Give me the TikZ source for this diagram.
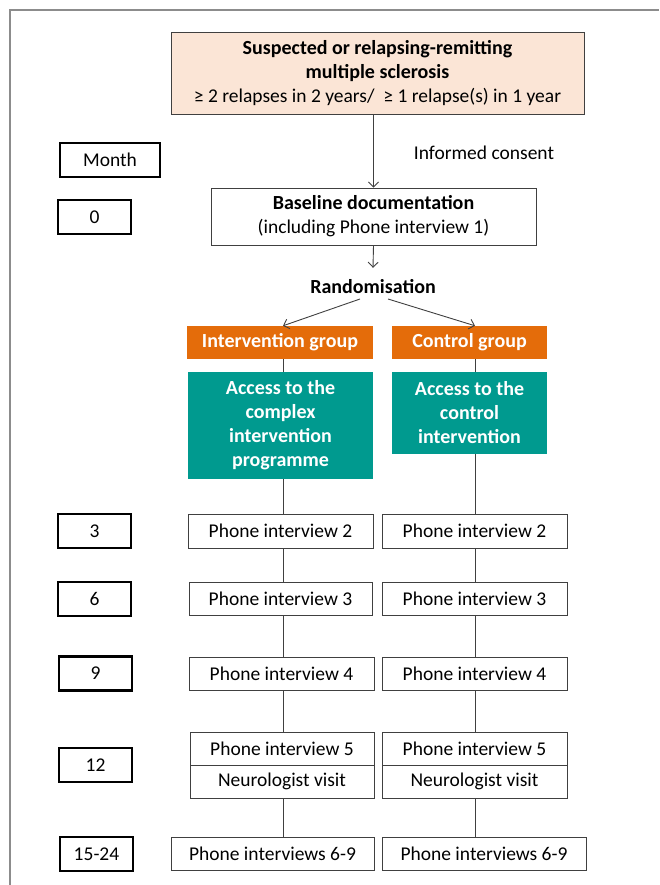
\documentclass[tikz,border=0pt]{standalone}
\usepackage{fontspec}
\setmainfont{Carlito}
\usetikzlibrary{arrows.meta}
\definecolor{peach}{HTML}{FBE5D6}
\definecolor{orng}{HTML}{E46C0A}
\definecolor{tealc}{HTML}{009A8F}
\definecolor{edgec}{HTML}{404040}
\definecolor{framec}{HTML}{8C8C8C}
\tikzset{
  base/.style={font=\fontsize{19.5}{24}\selectfont, align=center, inner sep=0pt},
  bfnt/.style={font=\fontsize{20}{24}\selectfont\bfseries},
  wbox/.style={base, draw=edgec, line width=0.9pt, fill=white},
  mbox/.style={base, draw=black, line width=2.8pt, minimum width=73pt, minimum height=34pt},
  obox/.style={base, fill=orng, text=white, bfnt},
  tbox/.style={base, fill=tealc, text=white, bfnt},
  conn/.style={draw=edgec, line width=0.9pt},
  arr/.style={conn, -{Straight Barb[length=5pt,width=10pt]}},
}
\begin{document}
\begin{tikzpicture}[x=1pt,y=-1pt]
\useasboundingbox (0,0) rectangle (659,885);
\draw[framec, line width=1.3pt] (10,885) -- (10,10) -- (659,10);

% top
\node[wbox, fill=peach, minimum width=413pt, minimum height=82pt] (top) at (377.5,73)
  {\textbf{\fontsize{20}{24}\selectfont Suspected or relapsing-remitting}\\ \textbf{\fontsize{20}{24}\selectfont multiple sclerosis}\\ ≥ 2 relapses in 2 years/\ \ ≥ 1 relapse(s) in 1 year};
\node[base] (ic) at (484,153) {Informed consent};
\node[wbox, minimum width=325pt, minimum height=57pt] (bl) at (373.5,216.5)
  {\textbf{\fontsize{20}{24}\selectfont Baseline documentation}\\ (including Phone interview 1)};
\node[base, minimum height=38pt, bfnt] (rand) at (373,287) {Randomisation};

% month boxes
\node[mbox, minimum width=100pt] (mm) at (110,160) {Month};
\node[mbox] (m0) at (94.5,217) {0};
\node[mbox] (m3) at (94.5,531) {3};
\node[mbox] (m6) at (94.5,599) {6};
\node[mbox] (m9) at (95.5,673.5) {9};
\node[mbox] (m12) at (95.5,765) {12};
\node[mbox] (m15) at (96.5,854) {15-24};

% groups
\node[obox, minimum width=186pt, minimum height=33pt] (ig) at (280,342.5) {Intervention group};
\node[obox, minimum width=155pt, minimum height=33pt] (cg) at (469.5,342.5) {Control group};
\node[tbox, minimum width=185pt, minimum height=107pt] (ia) at (280.5,425.5)
  {Access to the\\ complex\\ intervention\\ programme};
\node[tbox, minimum width=155pt, minimum height=82pt] (ca) at (469.5,413)
  {Access to the\\ control\\ intervention};

% left column
\node[wbox, minimum width=185pt, minimum height=34pt] (p2l) at (280.5,531) {Phone interview 2};
\node[wbox, minimum width=183pt, minimum height=33pt] (p3l) at (280.5,598.5) {Phone interview 3};
\node[wbox, minimum width=185pt, minimum height=33pt] (p4l) at (281.5,673.5) {Phone interview 4};
\node[wbox, minimum width=184pt, minimum height=33pt] (p5l) at (282,748.5) {Phone interview 5};
\node[wbox, minimum width=184pt, minimum height=33pt] (nvl) at (282,781.5) {Neurologist visit};
\node[wbox, minimum width=203pt, minimum height=33pt] (p69l) at (272.5,853.5) {Phone interviews 6-9};

% right column
\node[wbox, minimum width=185pt, minimum height=34pt] (p2r) at (474.5,531) {Phone interview 2};
\node[wbox, minimum width=185pt, minimum height=33pt] (p3r) at (474.5,598.5) {Phone interview 3};
\node[wbox, minimum width=185pt, minimum height=33pt] (p4r) at (474.5,673.5) {Phone interview 4};
\node[wbox, minimum width=185pt, minimum height=33pt] (p5r) at (474.5,748.5) {Phone interview 5};
\node[wbox, minimum width=185pt, minimum height=33pt] (nvr) at (474.5,781.5) {Neurologist visit};
\node[wbox, minimum width=204pt, minimum height=33pt] (p69r) at (484,853.5) {Phone interviews 6-9};

% column axes
\coordinate (L) at (283,0);
\coordinate (R) at (475,0);

% arrows
\draw[arr] (top.south -| bl.north) -- (bl.north);
\draw[arr] (bl.south) -- (rand.north);
\coordinate (rl) at (360,299);
\coordinate (rr) at (388,299);
\draw[arr] (rl) -- (ig.north -| L);
\draw[arr] (rr) -- (cg.north -| R);

% connectors
\foreach \a/\b in {ig/ia, ia/p2l, p2l/p3l, p3l/p4l, p4l/p5l, nvl/p69l}
  \draw[conn] (\a.south -| L) -- (\b.north -| L);
\foreach \a/\b in {cg/ca, ca/p2r, p2r/p3r, p3r/p4r, p4r/p5r, nvr/p69r}
  \draw[conn] (\a.south -| R) -- (\b.north -| R);
\end{tikzpicture}
\end{document}
